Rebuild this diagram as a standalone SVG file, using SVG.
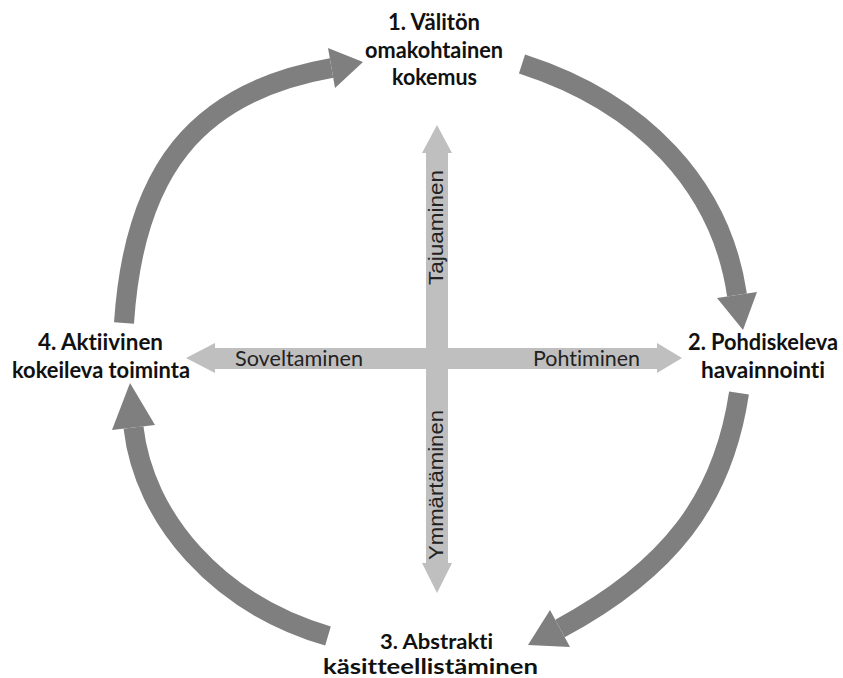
<svg xmlns="http://www.w3.org/2000/svg" width="843" height="678" viewBox="0 0 843 678">
  <style>
    text { font-variant-ligatures: none; }
    .stage { font-family: Lato, "Liberation Sans", sans-serif; font-weight: bold; font-size: 22.5px; fill: #111; text-anchor: middle; }
    .tight { font-size: 21px; }
    .axis-h { font-family: Lato, "Liberation Sans", sans-serif; font-size: 21.5px; fill: #222; }
    .axis-v { font-family: "Liberation Sans", Arial, sans-serif; font-size: 21px; fill: #222; text-anchor: middle; }
    .arc { fill: none; stroke: #7f7f7f; stroke-width: 20; stroke-linecap: butt; }
    .head { fill: #7f7f7f; }
    .bar { fill: #bfbfbf; }
  </style>
  <rect width="843" height="678" fill="#ffffff"/>

  <!-- central cross of the two learning axes -->
  <g id="axes">
    <polygon class="bar" points="437,125 452,153 448,153 448,563 452,563 437,593 422,563 426,563 426,153 422,153"/>
    <polygon class="bar" points="186,358 215,343 215,348 657,348 657,343 682,358 657,373 657,369 215,369 215,373"/>
    <text class="axis-h" x="235" y="366" textLength="128" lengthAdjust="spacingAndGlyphs">Soveltaminen</text>
    <text class="axis-h" x="533" y="366" textLength="107" lengthAdjust="spacingAndGlyphs">Pohtiminen</text>
    <text class="axis-v" transform="translate(443,227.5) rotate(-90)" textLength="115" lengthAdjust="spacingAndGlyphs">Tajuaminen</text>
    <text class="axis-v" transform="translate(443,485) rotate(-90)" textLength="150" lengthAdjust="spacingAndGlyphs">Ymmärtäminen</text>
  </g>

  <!-- cycle connectors -->
  <g id="cycle">
    <path class="arc" d="M522,64 C643,103 721,186 737,295"/>
    <polygon class="head" points="717,298 743,330 757,292"/>
    <path class="arc" d="M739,393 C723,500 669,570 560,628.5"/>
    <polygon class="head" points="550,610 528,645 570,647"/>
    <path class="arc" d="M328,636 C218,604 144,519 133.5,427.5"/>
    <polygon class="head" points="112,430 130,383 155,425"/>
    <path class="arc" d="M124,323 C134,171 196,92 331.5,68"/>
    <polygon class="head" points="328,48 363,62 335,88"/>
  </g>

  <g id="stage-1">
    <text class="stage" x="434" y="30" textLength="92" lengthAdjust="spacingAndGlyphs">1. Välitön</text>
    <text class="stage" x="434" y="58" textLength="138" lengthAdjust="spacingAndGlyphs">omakohtainen</text>
    <text class="stage" x="434.5" y="85" textLength="85" lengthAdjust="spacingAndGlyphs">kokemus</text>
  </g>
  <g id="stage-2">
    <text class="stage" x="763" y="350" textLength="150" lengthAdjust="spacingAndGlyphs">2. Pohdiskeleva</text>
    <text class="stage" x="763" y="378" textLength="124" lengthAdjust="spacingAndGlyphs">havainnointi</text>
  </g>
  <g id="stage-3">
    <text class="stage tight" x="436.5" y="649" textLength="113" lengthAdjust="spacingAndGlyphs">3. Abstrakti</text>
    <text class="stage tight" x="430.5" y="674" textLength="215" lengthAdjust="spacingAndGlyphs">käsitteellistäminen</text>
  </g>
  <g id="stage-4">
    <text class="stage" x="100.5" y="350" textLength="125" lengthAdjust="spacingAndGlyphs">4. Aktiivinen</text>
    <text class="stage" x="101" y="378" textLength="178" lengthAdjust="spacingAndGlyphs">kokeileva toiminta</text>
  </g>
</svg>
